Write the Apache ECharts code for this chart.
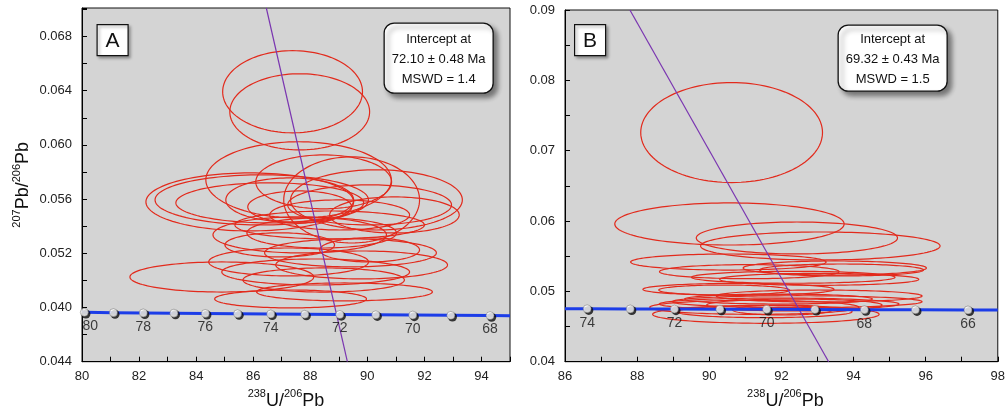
<!DOCTYPE html>
<html>
<head>
<meta charset="utf-8">
<style>
  html, body { margin: 0; padding: 0; background: #fff; }
  #chart { width: 1008px; height: 416px; }
</style>
<script src="https://cdn.jsdelivr.net/npm/echarts@6/dist/echarts.min.js"></script>
</head>
<body>
<div id="chart"></div>
<script>
// Tera-Wasserburg concordia plots for two zircon samples (A and B).

// Concordia age markers (Ma) and their positions
const agesA = [80, 79, 78, 77, 76, 75, 74, 73, 72, 71, 70, 69, 68];
const concXA = [80.081, 81.101, 82.147, 83.221, 84.323, 85.453, 86.615, 87.808, 89.034, 90.296, 91.592, 92.927, 94.301];
const concYA = [0.04764, 0.04762, 0.04760, 0.04758, 0.04756, 0.04754, 0.04752, 0.04750, 0.04748, 0.04746, 0.04744, 0.04742, 0.04740];
const agesB = [74, 73, 72, 71, 70, 69, 68, 67, 66];
const concXB = [86.615, 87.808, 89.034, 90.296, 91.592, 92.927, 94.301, 95.716, 97.174];
const concYB = [0.04752, 0.04750, 0.04748, 0.04746, 0.04744, 0.04742, 0.04740, 0.04738, 0.04736];
// concordia curve continued to the plot edges
const concEndsA = [[80.0, 0.04764], [95.0, 0.04739]];
const concEndsB = [[86.0, 0.04753], [98.0, 0.04735]];
const labelledAges = [80, 78, 76, 74, 72, 70, 68, 66];

// Discordia (regression) lines through common-Pb
const discordiaA = [[86.46, 0.0701], [89.30, 0.044]];
const discordiaB = [[87.80, 0.09], [93.31, 0.04]];

// Analyses: [238U/206Pb, 207Pb/206Pb, half-width x, half-height y]
const ellipsesA = [
  [87.38, 0.06392, 2.45, 0.00303],
  [87.63, 0.06244, 2.45, 0.00281],
  [87.59, 0.05742, 3.25, 0.00281],
  [88.47, 0.05727, 2.38, 0.00199],
  [90.32, 0.05594, 3.01, 0.00222],
  [85.88, 0.05579, 3.64, 0.00214],
  [86.30, 0.05594, 3.74, 0.00185],
  [86.58, 0.05572, 3.29, 0.00148],
  [87.28, 0.05594, 2.24, 0.00162],
  [87.63, 0.05542, 1.82, 0.00118],
  [90.08, 0.05557, 2.87, 0.00148],
  [89.03, 0.05483, 2.45, 0.00111],
  [87.63, 0.05336, 3.04, 0.00133],
  [88.40, 0.05350, 2.62, 0.00111],
  [89.41, 0.05203, 3.01, 0.00103],
  [89.80, 0.05114, 3.01, 0.00103],
  [88.19, 0.05062, 3.29, 0.00096],
  [88.47, 0.05003, 2.83, 0.00089],
  [87.24, 0.05136, 2.80, 0.00103],
  [84.90, 0.05025, 3.22, 0.00111],
  [87.31, 0.04863, 2.66, 0.00066],
  [89.20, 0.04915, 3.08, 0.00066],
  [90.08, 0.05225, 1.75, 0.00089],
  [86.93, 0.05262, 1.92, 0.00089],
  [88.68, 0.05409, 3.32, 0.00103],
  [90.95, 0.05483, 2.27, 0.00133],
  [89.45, 0.05594, 2.38, 0.00318]
];
const ellipsesB = [
  [90.62, 0.07258, 2.52, 0.00711],
  [90.56, 0.05958, 3.18, 0.00299],
  [92.43, 0.05759, 2.79, 0.00227],
  [93.08, 0.05645, 3.32, 0.00199],
  [90.53, 0.05417, 2.71, 0.00114],
  [93.48, 0.05332, 2.54, 0.00100],
  [91.11, 0.05280, 2.49, 0.00100],
  [93.67, 0.05304, 2.27, 0.00085],
  [92.33, 0.05200, 2.82, 0.00085],
  [93.05, 0.05171, 2.76, 0.00085],
  [90.81, 0.05029, 2.65, 0.00085],
  [90.41, 0.05019, 1.81, 0.00071],
  [92.44, 0.04853, 3.46, 0.00085],
  [91.92, 0.04891, 2.60, 0.00071],
  [91.25, 0.04773, 2.90, 0.00100],
  [91.94, 0.04820, 3.32, 0.00085],
  [92.36, 0.04806, 2.43, 0.00085],
  [91.57, 0.04674, 3.14, 0.00128],
  [92.03, 0.04735, 1.38, 0.00071],
  [91.53, 0.04711, 2.43, 0.00085],
  [93.05, 0.04934, 2.85, 0.00085]
];

// Axis tick labels (panel A shows its 0.048 gridline as "0.040")
const yTickValsA = [0.044, 0.048, 0.052, 0.056, 0.060, 0.064, 0.068];
const yTickLabelsA = ['0.044', '0.040', '0.052', '0.056', '0.060', '0.064', '0.068'];
const yTickValsB = [0.04, 0.05, 0.06, 0.07, 0.08, 0.09];
const yTickLabelsB = ['0.04', '0.05', '0.06', '0.07', '0.08', '0.09'];

const intercepts = [
  ['Intercept at', '72.10 ± 0.48 Ma', 'MSWD = 1.4'],
  ['Intercept at', '69.32 ± 0.43 Ma', 'MSWD = 1.5']
];

const FONT = '"Liberation Sans", Arial, Helvetica, sans-serif';
const RED = '#e22a1c';

function tickFormatter(vals, labels) {
  return function (v) {
    const i = vals.findIndex(t => Math.abs(t - v) < 1e-7);
    return i >= 0 ? labels[i] : '';
  };
}

function renderEllipse(params, api) {
  const c = api.coord([api.value(0), api.value(1)]);
  const s = api.size([api.value(2), api.value(3)]);
  const pts = [];
  const n = 120;
  for (let k = 0; k < n; k++) {
    const t = (k / n) * Math.PI * 2;
    pts.push([c[0] + s[0] * Math.cos(t), c[1] + s[1] * Math.sin(t)]);
  }
  return {
    type: 'polygon',
    shape: { points: pts },
    style: { fill: 'none', stroke: RED, lineWidth: 1.2 }
  };
}

function zip(xs, ys) { return xs.map((x, i) => [x, ys[i]]); }

function concordiaSeries(idx, xs, ys, ages, ends, xMin) {
  const pts = zip(xs, ys);
  const line = [ends[0]].concat(pts, [ends[1]]);
  const labelled = [];
  ages.forEach((a, i) => {
    if (labelledAges.indexOf(a) >= 0) {
      const item = { value: [xs[i], ys[i]], age: a };
      if (xs[i] - xMin < 0.3) item.label = { offset: [6, 0] };
      labelled.push(item);
    }
  });
  return [
    {
      type: 'line', xAxisIndex: idx, yAxisIndex: idx, data: line,
      showSymbol: false, symbol: 'none', smooth: false, clip: true,
      lineStyle: { color: '#1c3de8', width: 3 }, z: 4, silent: true
    },
    {
      type: 'scatter', xAxisIndex: idx, yAxisIndex: idx, data: pts,
      symbolSize: 9, symbolOffset: [1.6, 1.6],
      itemStyle: { color: '#0b0b0b' }, z: 5, silent: true
    },
    {
      type: 'scatter', xAxisIndex: idx, yAxisIndex: idx, data: pts,
      symbolSize: 8,
      itemStyle: { color: '#ffffff', borderColor: '#666', borderWidth: 0.6 }, z: 6, silent: true
    },
    {
      type: 'scatter', xAxisIndex: idx, yAxisIndex: idx, data: labelled,
      symbolSize: 8, itemStyle: { color: 'rgba(0,0,0,0)' }, z: 7, silent: true,
      label: {
        show: true, position: 'bottom', distance: 3,
        formatter: p => String(p.data.age),
        fontFamily: FONT, fontSize: 14, color: '#111'
      }
    }
  ];
}

function ellipseSeries(idx, data) {
  return {
    type: 'custom', xAxisIndex: idx, yAxisIndex: idx, data: data,
    renderItem: renderEllipse, encode: { x: 0, y: 1 }, clip: true, z: 2, silent: true
  };
}

function discordiaSeries(idx, data) {
  return {
    type: 'line', xAxisIndex: idx, yAxisIndex: idx, data: data,
    showSymbol: false, symbol: 'none', clip: true,
    lineStyle: { color: '#7a35b0', width: 1.2 }, z: 3, silent: true
  };
}

const titleRich = {
  m: { fontFamily: FONT, fontSize: 18, color: '#111', lineHeight: 22, verticalAlign: 'bottom' },
  s: { fontFamily: FONT, fontSize: 11, color: '#111', lineHeight: 22, verticalAlign: 'top' , padding: [1, 0, 0, 0]}
};

function xAxisCfg(idx, min, max) {
  return {
    type: 'value', gridIndex: idx, min: min, max: max, interval: 2,
    name: '{s|238}{m|U/}{s|206}{m|Pb}', nameLocation: 'middle', nameGap: 26,
    nameTextStyle: { rich: titleRich, padding: idx === 0 ? [0, 20, 0, 0] : [0, 0, 0, 8] },
    axisLine: { show: true, lineStyle: { color: '#000', width: 1 } },
    axisTick: { show: true, inside: true, length: 5, lineStyle: { color: '#000' } },
    minorTick: { show: true, splitNumber: 2, length: 5, lineStyle: { color: '#000' } },
    splitLine: { show: false },
    axisLabel: {
      fontFamily: FONT, fontSize: 13, color: '#222', margin: 8,
      formatter: v => (Math.abs(v - Math.round(v)) < 1e-6 && Math.round(v) % 2 === 0) ? String(Math.round(v)) : ''
    }
  };
}

function yAxisCfg(idx, min, max, interval, vals, labels, withName) {
  const cfg = {
    type: 'value', gridIndex: idx, min: min, max: max, interval: interval,
    axisLine: { show: true, lineStyle: { color: '#000', width: 1 } },
    axisTick: { show: true, inside: true, length: 5, lineStyle: { color: '#000' } },
    minorTick: { show: true, splitNumber: 2, length: 5, lineStyle: { color: '#000' } },
    splitLine: { show: false },
    axisLabel: {
      fontFamily: FONT, fontSize: 13, color: '#222', margin: 10,
      formatter: tickFormatter(vals, labels)
    }
  };
  if (withName) {
    cfg.name = '{s|207}{m|Pb/}{s|206}{m|Pb}';
    cfg.nameLocation = 'middle';
    cfg.nameRotate = 90;
    cfg.nameGap = 50;
    cfg.nameTextStyle = { rich: titleRich };
  }
  return cfg;
}

function panelLetter(x, y, letter) {
  return {
    type: 'group', left: x, top: y, z: 100,
    children: [
      { type: 'rect', shape: { x: 0, y: 0, width: 31, height: 31 },
        style: { fill: '#fff', stroke: '#111', lineWidth: 1.2,
                 shadowBlur: 3, shadowOffsetX: 2, shadowOffsetY: 2, shadowColor: 'rgba(0,0,0,0.35)' } },
      { type: 'text', x: 15.5, y: 16.5,
        style: { text: letter, fontFamily: FONT, fontSize: 21, fill: '#111', align: 'center', verticalAlign: 'middle' } }
    ]
  };
}

function interceptBox(x, y, w, h, lines) {
  return {
    type: 'group', left: x, top: y, z: 100,
    children: [
      { type: 'rect', shape: { x: 0, y: 0, width: w, height: h, r: 10 },
        style: { fill: '#fff', stroke: '#111', lineWidth: 1.3,
                 shadowBlur: 5, shadowOffsetX: 4, shadowOffsetY: 4, shadowColor: 'rgba(0,0,0,0.45)' } },
      { type: 'text', x: w / 2, y: h / 2 + 1,
        style: { text: lines.join('\n'), fontFamily: FONT, fontSize: 13, lineHeight: 20,
                 fill: '#111', align: 'center', verticalAlign: 'middle' } }
    ]
  };
}

const chart = echarts.init(document.getElementById('chart'), null, { renderer: 'canvas' });

const option = {
  animation: false,
  backgroundColor: '#fff',
  grid: [
    { left: 82, top: 8, width: 428, height: 353.7, show: true,
      backgroundColor: '#d4d4d4', borderColor: '#111', borderWidth: 1 },
    { left: 565, top: 10, width: 434, height: 351.7, show: true,
      backgroundColor: '#d4d4d4', borderColor: '#111', borderWidth: 1 }
  ],
  xAxis: [xAxisCfg(0, 80, 95), xAxisCfg(1, 86, 98)],
  yAxis: [
    yAxisCfg(0, 0.044, 0.0701, 0.004, yTickValsA, yTickLabelsA, true),
    yAxisCfg(1, 0.04, 0.09, 0.01, yTickValsB, yTickLabelsB, false)
  ],
  graphic: [
    panelLetter(96.5, 24, 'A'),
    panelLetter(574, 24, 'B'),
    interceptBox(383.5, 22.5, 109, 70, intercepts[0]),
    interceptBox(837.5, 24.5, 109, 66, intercepts[1])
  ],
  series: [].concat(
    [ellipseSeries(0, ellipsesA), discordiaSeries(0, discordiaA)],
    concordiaSeries(0, concXA, concYA, agesA, concEndsA, 80),
    [ellipseSeries(1, ellipsesB), discordiaSeries(1, discordiaB)],
    concordiaSeries(1, concXB, concYB, agesB, concEndsB, 86)
  )
};

chart.setOption(option);
</script>
</body>
</html>
